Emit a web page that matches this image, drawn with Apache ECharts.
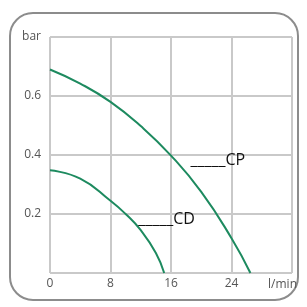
<!DOCTYPE html>
<html>
<head>
<meta charset="utf-8">
<script src="https://cdn.jsdelivr.net/npm/echarts@6/dist/echarts.min.js"></script>
<style>
  html, body { margin: 0; padding: 0; background: #fff; }
  #frame { position: absolute; left: 9px; top: 12px; width: 286px; height: 285px;
           border: 2px solid #8c8c8c; border-radius: 24px; }
  #chart { position: absolute; left: 0; top: 0; width: 307px; height: 307px; }
</style>
</head>
<body>
<div id="frame"></div>
<div id="chart"></div>
<script>
// pump curves, pressure (bar) vs flow (l/min)
const cpFlow = [0, 4, 8, 12, 16, 20, 24, 26.5]
const cpPressure = [0.69, 0.642, 0.58, 0.498, 0.398, 0.275, 0.118, 0]
const cdFlow = [0, 4, 8, 10, 12, 14, 15.1]
const cdPressure = [0.348, 0.32, 0.245, 0.2, 0.145, 0.068, 0]
const xTicks = [0, 8, 16, 24, 32]
const yTicks = [0, 0.2, 0.4, 0.6, 0.8]

const green = '#1d8a5f'
const gridColor = '#c9c9c9'
const font = 'Open Sans'

const pairs = (xs, ys) => xs.map((x, i) => [x, ys[i]])

const tag = (name, coord) => ({
  symbol: 'circle', symbolSize: 1,
  itemStyle: { color: 'rgba(0,0,0,0)' },
  data: [{ coord: coord }],
  label: {
    show: true, position: 'right', distance: 0,
    formatter: '_____' + name,
    color: '#111', fontSize: 16, fontFamily: font
  }
})

const chart = echarts.init(document.getElementById('chart'))
chart.setOption({
  animation: false,
  grid: { left: 50, right: 15, top: 37, bottom: 34 },
  xAxis: {
    type: 'value', min: xTicks[0], max: xTicks[xTicks.length - 1], interval: 8,
    axisLine: { show: false }, axisTick: { show: false },
    splitLine: { lineStyle: { color: gridColor, width: 2 } },
    axisLabel: {
      color: '#555', fontSize: 12, fontFamily: font, margin: 5,
      formatter: v => v === 32 ? '' : String(v)
    },
    name: 'l/min', nameLocation: 'end', nameGap: 5,
    nameTextStyle: { color: '#555', fontSize: 12, fontFamily: font,
                     align: 'right', verticalAlign: 'top', padding: [6, 0, 0, 0] }
  },
  yAxis: {
    type: 'value', min: yTicks[0], max: yTicks[yTicks.length - 1], interval: 0.2,
    axisLine: { show: false }, axisTick: { show: false },
    splitLine: { lineStyle: { color: gridColor, width: 2 } },
    axisLabel: {
      color: '#555', fontSize: 12, fontFamily: font, margin: 9,
      formatter: v => v === 0 ? '' : (v > 0.79 ? 'bar' : v.toFixed(1))
    }
  },
  series: [
    {
      type: 'line', data: pairs(cpFlow, cpPressure), smooth: true,
      symbol: 'none', lineStyle: { color: green, width: 2 },
      markPoint: tag('CP', [18.5, 0.38])
    },
    {
      type: 'line', data: pairs(cdFlow, cdPressure), smooth: true,
      symbol: 'none', lineStyle: { color: green, width: 2 },
      markPoint: tag('CD', [11.6, 0.182])
    }
  ]
})
</script>
</body>
</html>
